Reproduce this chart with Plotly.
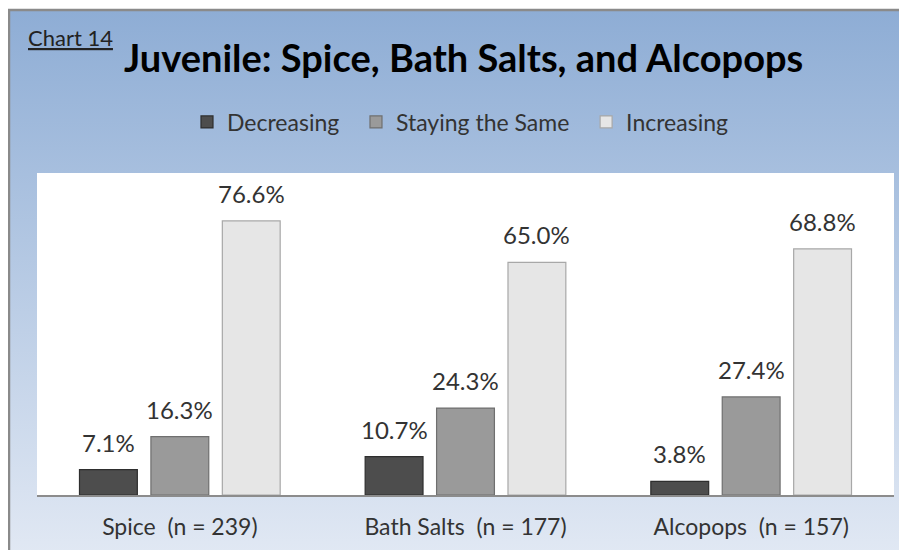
import plotly.graph_objects as go

# ---- data ----
categories = ["Spice  (n = 239)", "Bath Salts  (n = 177)", "Alcopops  (n = 157)"]
series_names = ["Decreasing", "Staying the Same", "Increasing"]
decreasing = [7.1, 10.7, 3.8]
staying = [16.3, 24.3, 27.4]
increasing = [76.6, 65.0, 68.8]
series_values = [decreasing, staying, increasing]
value_labels = [[f"{v:.1f}%" for v in s] for s in series_values]

# ---- style ----
# the page body has an 8px margin, so the figure is sized to fit the window
PAGE_OFF = 8
W, H = 907 - PAGE_OFF, 550 - PAGE_OFF


def px(x):
    return (x - PAGE_OFF) / W


def py(y):
    return 1 - (y - PAGE_OFF) / H


bar_fill = ["#4d4d4d", "#9a9a9a", "#e6e6e6"]
bar_edge = ["#2e2e2e", "#6f6f6f", "#a8a8a8"]
bargap = 0.25
bargroupgap = 0.19
text_col = "#333333"
FONT = "Lato"
legend_pad = "\u00a0\u00a0"  # extra spacing between legend entries

# plot-area domain (paper fractions)
x_dom = [px(37), px(894)]
y_dom = [py(495), py(173)]
frame_left = px(9)
frame_top = py(10)

fig = go.Figure()

# background gradient frame on a full-paper helper subplot (x / y)
fig.add_trace(go.Scatter(
    x=[frame_left, 1.02, 1.02, frame_left, frame_left],
    y=[-0.02, -0.02, frame_top, frame_top, -0.02],
    mode="lines", fill="toself",
    line=dict(color="#8a8a8a", width=2.5),
    fillgradient=dict(type="vertical",
                      colorscale=[[0, "#e2e9f4"], [1, "#8eadd5"]]),
    hoverinfo="skip", showlegend=False, xaxis="x", yaxis="y",
))

xs = list(range(len(categories)))
n_series = len(series_names)
for k, (name, vals, fc, ec) in enumerate(zip(series_names, series_values, bar_fill, bar_edge)):
    fig.add_trace(go.Bar(
        name=name + (legend_pad if k < n_series - 1 else ""),
        x=xs, y=vals, xaxis="x2", yaxis="y2",
        marker=dict(color=fc, line=dict(color=ec, width=1.2)),
        hoverinfo="skip",
    ))

# value labels above bars
slot = (1 - bargap) / n_series
for j, (vals, labs) in enumerate(zip(series_values, value_labels)):
    for i, (v, lab) in enumerate(zip(vals, labs)):
        fig.add_annotation(
            x=xs[i] + (j - 1) * slot, y=v, xref="x2", yref="y2",
            text=lab, showarrow=False, yanchor="bottom", yshift=11,
            font=dict(family=FONT, size=24, color=text_col),
        )

# chart caption + title
fig.add_annotation(
    x=px(26), y=py(37), xref="paper", yref="paper",
    xanchor="left", yanchor="middle", showarrow=False,
    text="<u>Chart 14</u>", font=dict(family=FONT, size=22, color="#222222"),
)
fig.add_annotation(
    x=px(463), y=py(57), xref="paper", yref="paper",
    xanchor="center", yanchor="middle", showarrow=False,
    text="<b>Juvenile: Spice, Bath Salts, and Alcopops</b>",
    font=dict(family=FONT, size=38, color="#000000"),
)

fig.update_layout(
    width=W, height=H,
    margin=dict(l=0, r=0, t=0, b=0),
    paper_bgcolor="white",
    plot_bgcolor="white",
    barmode="group", bargap=bargap, bargroupgap=bargroupgap,
    font=dict(family=FONT, color=text_col),
    showlegend=True,
    legend=dict(
        orientation="h", x=px(460), xanchor="center",
        y=py(122), yanchor="middle",
        bgcolor="rgba(0,0,0,0)", font=dict(family=FONT, size=23, color=text_col),
        traceorder="normal", itemclick=False, itemdoubleclick=False,
    ),
    xaxis=dict(domain=[0, 1], range=[0, 1], visible=False, fixedrange=True),
    yaxis=dict(domain=[0, 1], range=[0, 1], visible=False, fixedrange=True),
    xaxis2=dict(
        domain=x_dom, anchor="y2", range=[-0.5, len(categories) - 0.5],
        tickvals=xs, ticktext=categories,
        showline=True, linecolor="#8c8c8c", linewidth=2,
        ticks="outside", ticklen=10, tickcolor="rgba(0,0,0,0)",
        showgrid=False, zeroline=False,
        tickfont=dict(family=FONT, size=23, color=text_col), fixedrange=True,
    ),
    yaxis2=dict(
        domain=y_dom, anchor="x2", range=[0, 90],
        visible=False, showgrid=False, zeroline=False, fixedrange=True,
    ),
)

fig.write_html("out.html")
